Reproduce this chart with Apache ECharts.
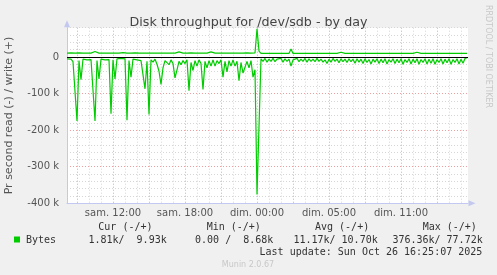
<!DOCTYPE html>
<html><head><meta charset="utf-8">
<script src="https://cdn.jsdelivr.net/npm/echarts@6/dist/echarts.min.js"></script>
<style>html,body{margin:0;padding:0;background:#f0f0f0}#c{width:497px;height:275px}</style>
</head><body><div id="c"></div>
<script>
// x in minutes since Saturday 00:00; one sample every 10 minutes from 08:10
const startMinute = 490;
const stepMinutes = 10;
const endMinute = 2495;
// read (plotted negative), in k bytes/s
const readK = [
 5,10,6,13,8,175,10,62,6,4,
 8,5,7,4,175,10,60,6,4,8,
 5,7,155,8,60,5,8,4,7,5,
 173,10,55,6,4,8,5,10,6,87,
 12,157,8,14,6,20,39,75,30,10,
 15,21,8,18,57,35,12,21,10,18,
 8,92,15,37,10,25,8,18,89,12,
 30,10,25,8,25,10,18,8,55,12,
 41,10,25,8,25,12,65,15,44,40,
 12,30,10,55,35,376,190,5,12,4,
 14,6,12,4,13,6,11,4,14,5,
 12,6,25,8,12,4,13,6,12,4,
 14,5,12,6,13,4,12,6,14,8,
 18,6,14,4,12,6,16,5,13,6,
 15,5,13,6,17,5,14,6,18,5,
 15,7,19,6,14,5,18,6,16,5,
 19,7,14,5,18,6,16,5,20,7,
 15,5,19,6,16,5,20,7,15,5,
 19,6,17,5,20,7,15,5,19,6,
 16,5,20,7,15,5,19,6,17,4,
 2
];
// write (plotted positive), in k bytes/s
const writeK = [
 10.5,10.5,11,10.5,10.5,10.5,11,10.5,10.5,10.5,
 10.5,10.5,10.5,11,15,10.5,10.5,10.5,10.5,10.5,
 10.5,11,10.5,10.5,10.5,10.5,10.5,10.5,12,10.5,
 10.5,10.5,10.5,10.5,11,10.5,10.5,10.5,10.5,10.5,
 10.5,10.5,10.5,10.5,10.5,12,10.5,10.5,10.5,11,
 10.5,10.5,10.5,10.5,10.5,10.5,14,10.5,10.5,10.5,
 10.5,10.5,11,10.5,10.5,10.5,10.5,10.5,10.5,10.5,
 10.5,10.5,14,10.5,10.5,10.5,10.5,11,10.5,10.5,
 10.5,10.5,10.5,10.5,10.5,12,10.5,10.5,10.5,10.5,
 11,10.5,10.5,10.5,11,77,16,10,9.8,9.8,
 9.8,9.8,9.8,9.8,9.8,9.8,9.8,9.8,9.8,9.8,
 9.8,9.8,22,9.8,9.8,9.8,9.8,9.8,9.8,9.8,
 9.8,9.8,9.8,9.8,9.8,9.8,9.8,9.8,9.8,9.8,
 9.8,9.8,9.8,9.8,9.8,9.8,9.8,13,9.8,9.8,
 9.8,9.8,9.8,9.8,9.8,9.8,9.8,9.8,9.8,9.8,
 10.5,9.8,9.8,9.8,9.8,9.8,9.8,9.8,9.8,9.8,
 9.8,9.8,9.8,9.8,9.8,9.8,9.8,9.8,9.8,9.8,
 9.8,9.8,9.8,9.8,9.8,13,9.8,9.8,9.8,9.8,
 9.8,9.8,9.8,9.8,9.8,9.8,9.8,9.8,9.8,9.8,
 10.5,9.8,9.8,9.8,9.8,9.8,9.8,9.8,9.8,9.8,
 9.9
];
const xTickMinutes = [720,1080,1440,1800,2160];
const xTickLabels = ['sam. 12:00','sam. 18:00','dim. 00:00','dim. 05:00','dim. 11:00'];
const yTickValues = [0,-100000,-200000,-300000,-400000];
const yTickLabels = ['0','-100 k','-200 k','-300 k','-400 k'];
const legendHeaders = ['Cur (-/+)','Min (-/+)','Avg (-/+)','Max (-/+)'];
const legendValues = ['1.81k/  9.93k','0.00 /  8.68k','11.17k/ 10.70k','376.36k/ 77.72k'];
const seriesName = 'Bytes';
const lastUpdate = 'Last update: Sun Oct 26 16:25:07 2025';

const GREEN = '#00cc00';
const MINOR = '#d6d6d6';
const MAJOR = '#e8a0a0';
const AXIS = '#c3c8f0';
const T = 'rgba(0,0,0,0)';

const readData = readK.map((v, i) => [startMinute + i * stepMinutes, -v * 1000]);
const writeData = writeK.map((v, i) => [startMinute + i * stepMinutes, v * 1000]);

// vertical grid colour cycle: tick every 10 min starting 08:10 -> 18 ticks per 3h
const xGridColors = [];
for (let k = 0; k < 18; k++) xGridColors.push(k === 5 ? MAJOR : (k === 11 || k === 17 ? MINOR : T));

const chart = echarts.init(document.getElementById('c'), null, {renderer: 'canvas'});
const mono = 'DejaVu Sans Mono';
const headerX = [98.3, 206.7, 315, 422.7];
const valueRight = [166.7, 273.3, 377.7, 482.7];
const graphics = [];
legendHeaders.forEach((t, i) => graphics.push({type: 'text', left: headerX[i], top: 222, style: {text: t, font: '10px ' + mono, fill: '#333'}}));
legendValues.forEach((t, i) => graphics.push({type: 'text', x: valueRight[i], y: 240, style: {text: t, font: '10px ' + mono, fill: '#333', textAlign: 'right', textVerticalAlign: 'middle'}}));
graphics.push({type: 'rect', shape: {x: 14, y: 236.5, width: 6, height: 6}, style: {fill: GREEN}});
graphics.push({type: 'text', x: 26, y: 240, style: {text: seriesName, font: '10px ' + mono, fill: '#333', textVerticalAlign: 'middle'}});
graphics.push({type: 'text', x: 482.3, y: 252, style: {text: lastUpdate, font: '10px ' + mono, fill: '#333', textAlign: 'right', textVerticalAlign: 'middle'}});
graphics.push({type: 'text', x: 248, y: 264.5, style: {text: 'Munin 2.0.67', font: '8px DejaVu Sans', fill: '#c8c8c8', textAlign: 'center', textVerticalAlign: 'middle'}});
graphics.push({type: 'text', x: 488, y: 5, rotation: -Math.PI / 2, style: {text: 'RRDTOOL / TOBI OETIKER', font: '8px DejaVu Sans', fill: '#c8c8c8', textAlign: 'left', textVerticalAlign: 'middle'}});

chart.setOption({
  animation: false,
  backgroundColor: '#f0f0f0',
  title: {text: 'Disk throughput for /dev/sdb - by day', left: 'center', top: 11,
    textStyle: {fontFamily: 'DejaVu Sans', fontSize: 12.7, fontWeight: 'normal', color: '#444'}},
  grid: {left: 67, right: 29, top: 27.7, bottom: 71.7, show: true, backgroundColor: '#ffffff', borderWidth: 0,
    containLabel: false, outerBoundsMode: 'none'},
  xAxis: {
    type: 'value', min: startMinute, max: endMinute, interval: stepMinutes,
    axisLine: {show: true, onZero: false, lineStyle: {color: AXIS, width: 1}, symbol: ['none', 'triangle'], symbolSize: [6, 7], symbolOffset: [0, 4]},
    axisTick: {show: false},
    axisLabel: {show: true, margin: 5, fontFamily: 'DejaVu Sans', fontSize: 10, color: '#555',
      formatter: v => { const j = xTickMinutes.indexOf(Math.round(v)); return j >= 0 ? xTickLabels[j] : ''; }},
    splitLine: {show: true, lineStyle: {color: xGridColors, type: [1, 2], width: 1}}
  },
  yAxis: {
    type: 'value', min: -400000, max: 80000, interval: 20000,
    name: 'Pr second read (-) / write (+)', nameLocation: 'middle', nameGap: 52, nameRotate: 90,
    nameTextStyle: {fontFamily: 'DejaVu Sans', fontSize: 11, color: '#555'},
    axisLine: {show: true, lineStyle: {color: AXIS, width: 1}, symbol: ['none', 'triangle'], symbolSize: [6, 7], symbolOffset: [0, 4]},
    axisTick: {show: false},
    axisLabel: {margin: 8, fontFamily: 'DejaVu Sans', fontSize: 10, color: '#555',
      formatter: v => { const j = yTickValues.indexOf(Math.round(v)); return j >= 0 ? yTickLabels[j] : ''; }},
    splitLine: {show: true, lineStyle: {color: [MAJOR, MINOR, MINOR, MINOR, MINOR], type: [1, 2], width: 1}}
  },
  series: [
    {name: 'read', type: 'line', data: readData, showSymbol: false, symbol: 'none', silent: true,
      lineStyle: {color: GREEN, width: 1.2}, itemStyle: {color: GREEN}, z: 3},
    {name: 'write', type: 'line', data: writeData, showSymbol: false, symbol: 'none', silent: true,
      lineStyle: {color: GREEN, width: 1.2}, itemStyle: {color: GREEN}, z: 3,
      markLine: {silent: true, symbol: 'none', label: {show: false}, animation: false,
        lineStyle: {color: '#000', type: 'solid', width: 1}, data: [{yAxis: 0}]}}
  ],
  graphic: graphics
});
</script></body></html>
